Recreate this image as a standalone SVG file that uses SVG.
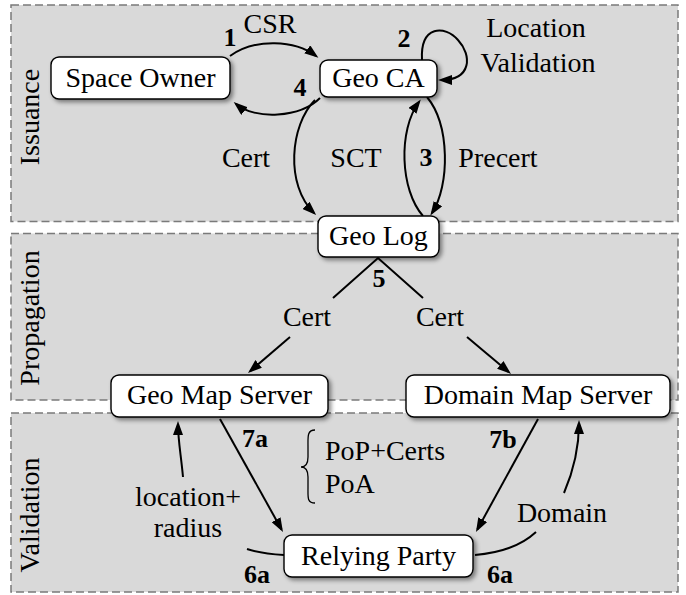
<svg xmlns="http://www.w3.org/2000/svg" width="686" height="595" viewBox="0 0 686 595">
<defs>
<style>
text{font-family:"Liberation Serif","DejaVu Serif",serif;font-size:28px;fill:#000;}
.b{font-weight:bold;font-size:26px;}
.m{text-anchor:middle;}
.panel{fill:#d9d9d9;stroke:#7a7a7a;stroke-width:1.5;stroke-dasharray:8 4;}
.node rect{fill:#fff;stroke:#000;stroke-width:1.4;filter:url(#sh);}
.e{fill:none;stroke:#000;stroke-width:2;}
.a{marker-end:url(#arr);}
</style>
<filter id="sh" x="-20%" y="-30%" width="150%" height="180%">
<feDropShadow dx="2.5" dy="2.5" stdDeviation="2" flood-color="#000" flood-opacity="0.45"/>
</filter>
<marker id="arr" viewBox="0 0 14 10" refX="11" refY="5" markerWidth="14" markerHeight="10" markerUnits="userSpaceOnUse" orient="auto">
<path d="M0,0 L14,5 L0,10 z" fill="#000"/>
</marker>
</defs>

<g id="panels">
<rect class="panel" x="11" y="5" width="667" height="216.5"/>
<rect class="panel" x="11" y="233.5" width="667" height="166.5"/>
<rect class="panel" x="11" y="413" width="667" height="179"/>
<text class="m" transform="translate(39,117) rotate(-90)">Issuance</text>
<text class="m" transform="translate(39,318) rotate(-90)">Propagation</text>
<text class="m" transform="translate(39,515) rotate(-90)">Validation</text>
</g>

<g id="connectors">
<path class="e a" d="M230,56 C255,38 295,40 316,56"/>
<path class="e a" d="M422,60 C420,25 445,25 458,40 C472,55 472,80 441,80"/>
<path class="e a" d="M320,98 C300,118 255,120 236,104"/>
<path class="e a" d="M315,100 C290,125 285,185 314,213"/>
<path class="e a" d="M423,216 C400,190 398,130 419,102"/>
<path class="e a" d="M427,97 C450,125 450,185 432,213"/>
<path class="e" d="M333,298 L378,258 L423,298"/>
<path class="e a" d="M290,337 L250.3,371"/>
<path class="e a" d="M467,337 L508.7,372"/>
<path class="e a" d="M220,419 L281.5,529.4"/>
<path class="e a" d="M538,419 L477.4,529.4"/>
<path class="e" d="M284,555 C268,554 256,552 247,549"/>
<path class="e a" d="M183,477 C181,455 178,440 178,424"/>
<path class="e" d="M475,555 C500,553 522,545 536,532"/>
<path class="e a" d="M564,493 C573,472 579,450 579,423"/>
<path fill="none" stroke="#000" stroke-width="1.3" d="M315,430 C307,430 308,437 308,446 L308,457 C308,464 305,467 301,467 C305,467 308,470 308,477 L308,488 C308,497 307,503 315,503"/>
</g>

<g id="labels">
<text class="b m" x="230" y="46">1</text>
<text class="m" x="270" y="33">CSR</text>
<text class="b m" x="404" y="47">2</text>
<text class="m" x="536" y="37">Location</text>
<text class="m" x="538" y="72">Validation</text>
<text class="b m" x="300" y="96">4</text>
<text class="m" x="246" y="167">Cert</text>
<text class="m" x="356" y="167">SCT</text>
<text class="b m" x="426" y="166">3</text>
<text class="m" x="498" y="167">Precert</text>
<text class="b m" x="379" y="287">5</text>
<text class="m" x="307" y="326">Cert</text>
<text class="m" x="440" y="326">Cert</text>
<text class="b m" x="255" y="447">7a</text>
<text x="325" y="460">PoP+Certs</text>
<text x="325" y="493">PoA</text>
<text class="b m" x="503" y="448">7b</text>
<text class="m" x="188" y="506">location+</text>
<text class="m" x="188" y="537">radius</text>
<text class="m" x="562" y="522">Domain</text>
<text class="b m" x="257" y="583">6a</text>
<text class="b m" x="500" y="583">6a</text>
</g>

<g id="space-owner" class="node"><rect x="51" y="57" width="179" height="42" rx="8"/><text class="m" x="140.5" y="87">Space Owner</text></g>
<g id="geo-ca" class="node"><rect x="320" y="60" width="117" height="37" rx="8"/><text class="m" x="378.5" y="87">Geo CA</text></g>
<g id="geo-log" class="node"><rect x="318" y="216" width="121" height="41" rx="8"/><text class="m" x="378.5" y="245">Geo Log</text></g>
<g id="geo-map-server" class="node"><rect x="111" y="375" width="217" height="42" rx="8"/><text class="m" x="219.5" y="404">Geo Map Server</text></g>
<g id="domain-map-server" class="node"><rect x="406" y="375" width="264" height="42" rx="8"/><text class="m" x="538" y="404">Domain Map Server</text></g>
<g id="relying-party" class="node"><rect x="284" y="535" width="189" height="42" rx="8"/><text class="m" x="378.5" y="565">Relying Party</text></g>
</svg>
